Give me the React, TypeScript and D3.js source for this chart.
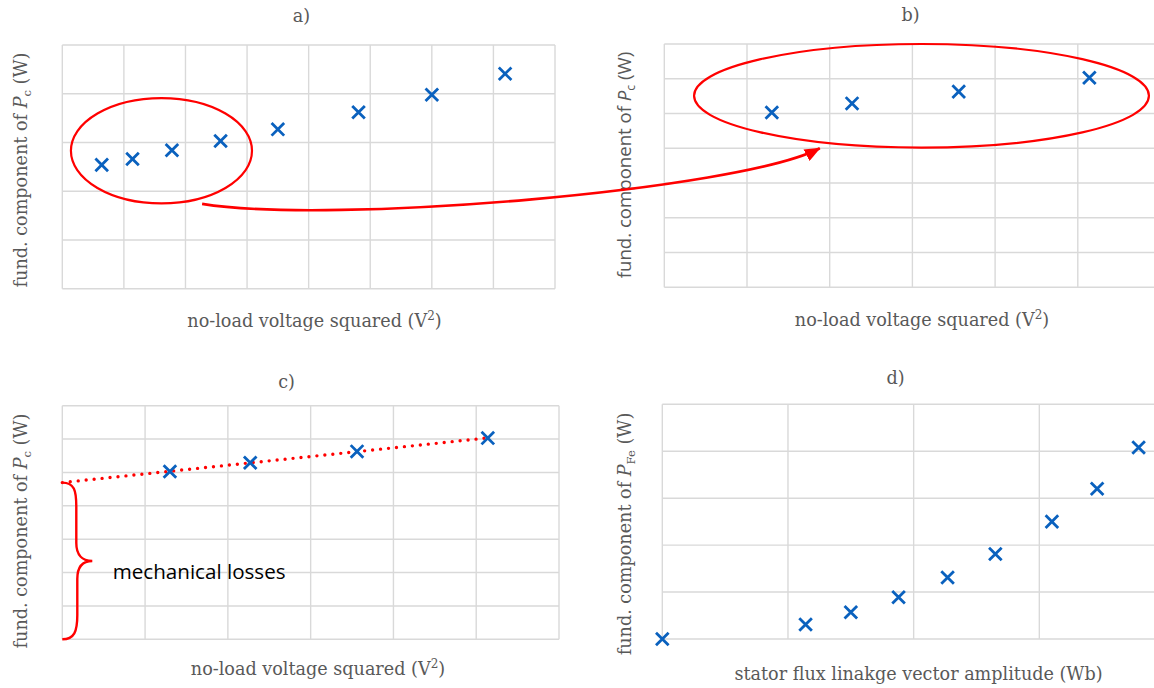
import React from "react";
import * as d3 from "d3";

// a) all no-load measurements (grid units of the plot)
const aVolt2 = [0.64, 1.14, 1.78, 2.57, 3.5, 4.81, 6.0, 7.19];
const aPc = [2.54, 2.66, 2.84, 3.03, 3.27, 3.62, 3.98, 4.41];
// b) and c) the four points circled in a), re-scaled
const bVolt2 = [1.3, 2.27, 3.56, 5.14];
const bPc = [5.03, 5.29, 5.63, 6.03];
// d) iron losses vs stator flux
const dFlux = [0, 1.14, 1.5, 1.88, 2.27, 2.65, 3.1, 3.46, 3.79];
const dPfe = [0, 0.31, 0.57, 0.89, 1.31, 1.81, 2.5, 3.2, 4.08];

const panelTitles = ["a)", "b)", "c)", "d)"];
const voltTitle = "no-load voltage squared (V";
const fluxTitle = "stator flux linakge vector amplitude (Wb)";
const mechText = "mechanical losses";

const GRID = "#d9d9d9";
const BLUE = "#0a61be";
const RED = "#ff0000";
const GRAY = "#595959";
const SERIF = "'DejaVu Serif', 'Liberation Serif', serif";
const SANS = "'Open Sans', 'Noto Sans', sans-serif";
const FS = 17.6;

function scales(left, right, top, bottom, nx, ny) {
  const x = d3.scaleLinear().domain([0, nx]).range([left, right]);
  const y = d3.scaleLinear().domain([0, ny]).range([bottom, top]);
  return { x, y };
}

const A = scales(62.3, 555, 45, 288.7, 8, 5);
const B = scales(664.3, 1160.5, 44, 287.3, 6, 7);
const C = scales(62.3, 559, 405.7, 639.3, 6, 7);
const D = scales(662.3, 1165, 404.3, 639, 4, 5);

function Grid({ s }) {
  const [x0, x1] = s.x.range();
  const [y0, y1] = s.y.range();
  return (
    <g stroke={GRID} strokeWidth={1.4} fill="none">
      {d3.range(0, s.x.domain()[1] + 1).map((t) => (
        <line key={"v" + t} x1={s.x(t)} x2={s.x(t)} y1={y0} y2={y1} />
      ))}
      {d3.range(0, s.y.domain()[1] + 1).map((t) => (
        <line key={"h" + t} x1={x0} x2={x1} y1={s.y(t)} y2={s.y(t)} />
      ))}
    </g>
  );
}

function Crosses({ s, xs, ys }) {
  const r = 6.3;
  return (
    <g stroke={BLUE} strokeWidth={2.8}>
      {xs.map((v, i) => (
        <path
          key={i}
          transform={`translate(${s.x(v)},${s.y(ys[i])})`}
          d={`M${-r},${-r}L${r},${r}M${-r},${r}L${r},${-r}`}
        />
      ))}
    </g>
  );
}

function YLabel({ cx, cy, sub, font, size }) {
  return (
    <text
      transform={`translate(${cx},${cy}) rotate(-90)`}
      textAnchor="middle"
      fontFamily={font}
      fontSize={size}
      fill={GRAY}
    >
      fund. component of <tspan fontStyle="italic">P</tspan>
      <tspan fontSize={size * 0.66} dy={4}>{sub}</tspan>
      <tspan dy={-4}> (W)</tspan>
    </text>
  );
}

function Title({ x, y, children }) {
  return (
    <text x={x} y={y} textAnchor="middle" fontFamily={SERIF} fontSize={FS} fill={GRAY}>
      {children}
    </text>
  );
}

function VoltLabel({ x, y }) {
  return (
    <text x={x} y={y} textAnchor="middle" fontFamily={SERIF} fontSize={FS} fill={GRAY}>
      {voltTitle}
      <tspan fontSize={12} dy={-7}>2</tspan>
      <tspan dy={7}>)</tspan>
    </text>
  );
}

export default function App() {
  // least-squares line through the c) points, extended back to zero
  const mx = d3.mean(bVolt2);
  const my = d3.mean(bPc);
  const slope =
    d3.sum(bVolt2, (v, i) => (v - mx) * (bPc[i] - my)) /
    d3.sum(bVolt2, (v) => (v - mx) ** 2);
  const icpt = my - slope * mx;
  const xEnd = d3.max(bVolt2);
  const trend = d3.line()([
    [C.x(0), C.y(icpt)],
    [C.x(xEnd), C.y(icpt + slope * xEnd)],
  ]);

  // curly brace under the intercept
  const bx = C.x(0);
  const bt = C.y(icpt);
  const bb = C.y(0);
  const bm = (bt + bb) / 2;
  const brace =
    `M${bx},${bt} C${bx + 12},${bt} ${bx + 14},${bt + 8} ${bx + 14},${bt + 24} ` +
    `L${bx + 14},${bm - 18} C${bx + 14},${bm - 6} ${bx + 20},${bm} ${bx + 30},${bm} ` +
    `C${bx + 20},${bm} ${bx + 15},${bm + 6} ${bx + 15},${bm + 18} ` +
    `L${bx + 15},${bb - 24} C${bx + 15},${bb - 8} ${bx + 12},${bb} ${bx},${bb}`;

  // arrow from a) to b)
  const p = d3.path();
  p.moveTo(A.x(2.27), A.y(1.74));
  p.bezierCurveTo(A.x(4.35), A.y(1.31), B.x(0.92), B.y(2.8), B.x(1.88), B.y(4.0));

  return (
    <svg
      width={1154}
      height={688}
      style={{ position: "absolute", left: 0, top: 0, background: "#fff" }}
    >
      <defs>
        <marker
          id="head"
          viewBox="0 0 16 13"
          refX={15}
          refY={6.5}
          markerWidth={16}
          markerHeight={13}
          markerUnits="userSpaceOnUse"
          orient="auto"
        >
          <path d="M0,0L16,6.5L0,13Z" fill={RED} />
        </marker>
      </defs>

      <Grid s={A} />
      <Grid s={B} />
      <Grid s={C} />
      <Grid s={D} />

      <Title x={301.5} y={22}>{panelTitles[0]}</Title>
      <Title x={910.5} y={21}>{panelTitles[1]}</Title>
      <Title x={286.5} y={388}>{panelTitles[2]}</Title>
      <Title x={895.5} y={384}>{panelTitles[3]}</Title>

      <VoltLabel x={314.5} y={327} />
      <VoltLabel x={922} y={326} />
      <VoltLabel x={318} y={675} />
      <text x={918.5} y={680} textAnchor="middle" fontFamily={SERIF} fontSize={FS} fill={GRAY}>
        {fluxTitle}
      </text>

      <YLabel cx={27} cy={170} sub="c" font={SERIF} size={FS} />
      <YLabel cx={631} cy={165} sub="c" font={SANS} size={18.6} />
      <YLabel cx={27} cy={531} sub="c" font={SERIF} size={FS} />
      <YLabel cx={631} cy={534} sub="Fe" font={SERIF} size={FS} />

      <path
        d={trend}
        stroke={RED}
        strokeWidth={3.4}
        strokeDasharray="0 8"
        strokeLinecap="round"
        fill="none"
      />

      <Crosses s={A} xs={aVolt2} ys={aPc} />
      <Crosses s={B} xs={bVolt2} ys={bPc} />
      <Crosses s={C} xs={bVolt2} ys={bPc} />
      <Crosses s={D} xs={dFlux} ys={dPfe} />

      <g stroke={RED} fill="none" strokeWidth={2.2}>
        <ellipse
          cx={A.x(1.61)}
          cy={A.y(2.83)}
          rx={A.x(1.47) - A.x(0)}
          ry={A.y(0) - A.y(1.08)}
        />
        <ellipse
          cx={B.x(3.11)}
          cy={B.y(5.51)}
          rx={B.x(2.75) - B.x(0)}
          ry={B.y(0) - B.y(1.49)}
        />
        <path d={p.toString()} strokeWidth={2.6} markerEnd="url(#head)" />
        <path d={brace} strokeWidth={2.4} />
      </g>

      <text x={bx + 50.4} y={bm + 17.8} fontFamily={SANS} fontSize={20.6} fill="#000">
        {mechText}
      </text>
    </svg>
  );
}
